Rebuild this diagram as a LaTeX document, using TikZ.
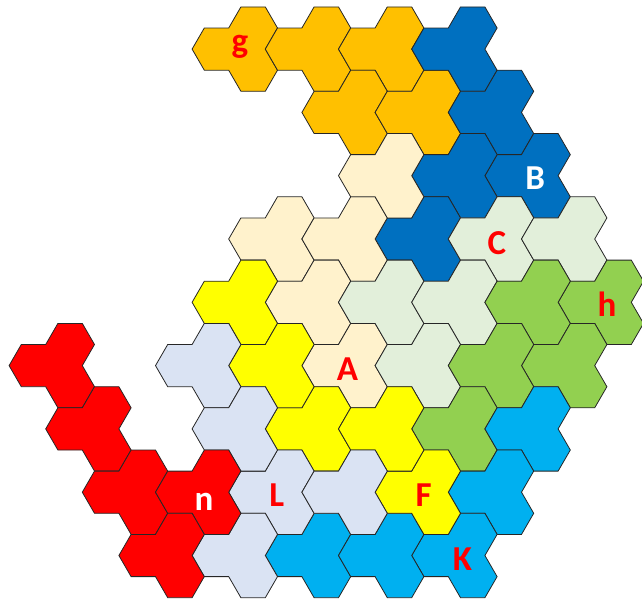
\documentclass[tikz,border=0pt]{standalone}
\usepackage{fontspec}
\setmainfont{Carlito}
\definecolor{cOrange}{HTML}{FFC000}
\definecolor{cBlue}{HTML}{0070C0}
\definecolor{cCream}{HTML}{FFF2CC}
\definecolor{cLtGreen}{HTML}{E2EFDA}
\definecolor{cGreen}{HTML}{92D050}
\definecolor{cCyan}{HTML}{00B0F0}
\definecolor{cYellow}{HTML}{FFFF00}
\definecolor{cLav}{HTML}{DAE3F3}
\definecolor{cRed}{HTML}{FF0000}
\newcommand\trihex[3]{%
  \draw[tile,fill=#3,shift={({33.5+36.6*#1},{28+21.1*#2})}]
    (-24.4,0) -- (-12.2,-21.1) -- (12.2,-21.1) -- (24.4,-42.2) -- (48.8,-42.2)
    -- (61,-21.1) -- (48.8,0) -- (61,21.1) -- (48.8,42.2) -- (24.4,42.2)
    -- (12.2,21.1) -- (-12.2,21.1) -- cycle;}
\begin{document}
\begin{tikzpicture}[x=1pt,y=-1pt,
  tile/.style={draw=black!85,line width=0.8pt,line join=miter},
  lbl/.style={font=\fontsize{35}{35}\selectfont\bfseries,inner sep=0pt,anchor=base}]
\useasboundingbox (0,0) rectangle (642,603);
\foreach \i/\j in {5/1,7/1,9/1,8/4,10/4} {\trihex{\i}{\j}{cOrange}}
\foreach \i/\j in {11/1,12/4,13/7,11/7,10/10} {\trihex{\i}{\j}{cBlue}}
\foreach \i/\j in {6/10,8/10,9/7,7/13,8/16} {\trihex{\i}{\j}{cCream}}
\foreach \i/\j in {9/13,12/10,14/10,11/13,10/16} {\trihex{\i}{\j}{cLtGreen}}
\foreach \i/\j in {15/13,13/13,14/16,12/16,11/19} {\trihex{\i}{\j}{cGreen}}
\foreach \i/\j in {13/19,12/22,11/25,7/25,9/25} {\trihex{\i}{\j}{cCyan}}
\foreach \i/\j in {10/22,7/19,9/19,5/13,6/16} {\trihex{\i}{\j}{cYellow}}
\foreach \i/\j in {6/22,8/22,4/16,5/19,5/25} {\trihex{\i}{\j}{cLav}}
\foreach \i/\j in {0/16,1/19,2/22,4/22,3/25} {\trihex{\i}{\j}{cRed}}
\node[lbl,text=cRed] (lg) at (240,52) {g};
\node[lbl,text=white] (lB) at (535.3,189.3) {B};
\node[lbl,text=cRed] (lC) at (497,254) {C};
\node[lbl,text=cRed] (lh) at (607,316) {h};
\node[lbl,text=cRed] (lA) at (347.5,380) {A};
\node[lbl,text=white] (ln) at (204,510) {n};
\node[lbl,text=cRed] (lL) at (276.7,506) {L};
\node[lbl,text=cRed] (lF) at (423.7,506) {F};
\node[lbl,text=cRed] (lK) at (462.5,570) {K};
\end{tikzpicture}
\end{document}
